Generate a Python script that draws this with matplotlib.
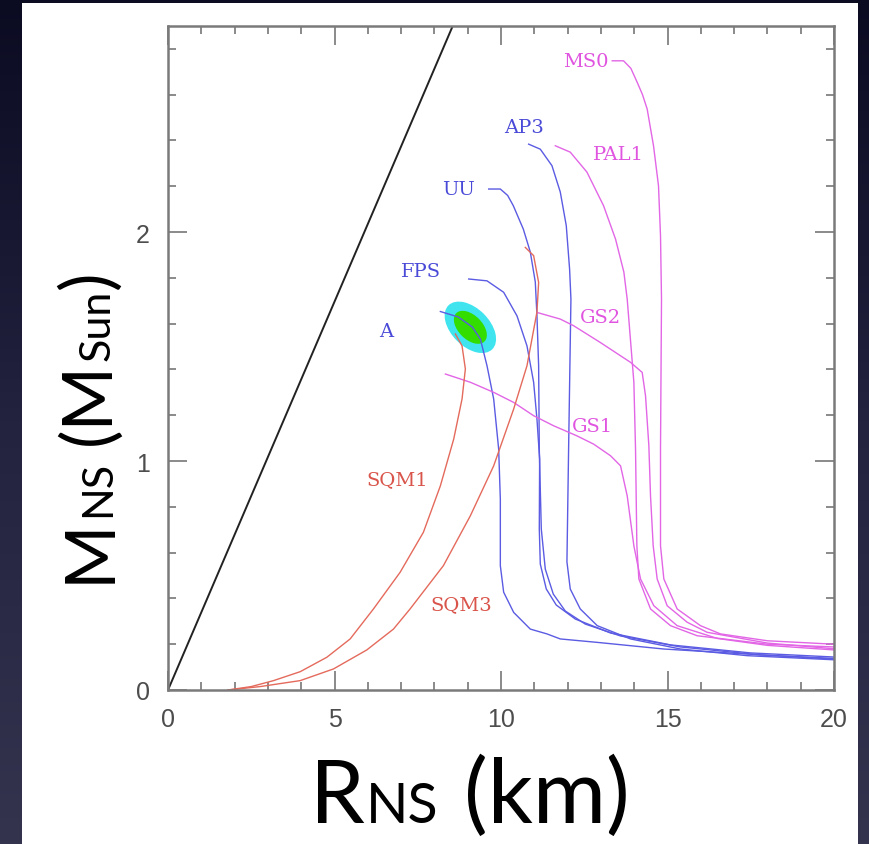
import matplotlib
matplotlib.use('Agg')
import matplotlib.pyplot as plt
import matplotlib.transforms as mtransforms
from matplotlib.patches import Ellipse, Rectangle
from matplotlib.colors import LinearSegmentedColormap
import numpy as np

# mass-radius curves, R in km, M in solar masses
line_R = [0.0, 8.55]
line_M = [0.0, 2.9]

A_R = [8.18, 8.72, 9.14, 9.38, 9.58, 9.78, 9.93, 9.98, 9.98, 10.08, 10.38, 10.88, 11.38, 11.78, 12.89, 14.89, 17.39, 20.0]
A_M = [1.653, 1.629, 1.585, 1.533, 1.416, 1.271, 1.052, 0.834, 0.543, 0.427, 0.339, 0.266, 0.245, 0.223, 0.208, 0.179, 0.157, 0.135]

FPS_R = [9.03, 9.58, 10.08, 10.48, 10.78, 10.98, 11.08, 11.16, 11.15, 11.18, 11.36, 11.66, 12.23, 13.29, 15.09, 17.49, 20.0]
FPS_M = [1.795, 1.787, 1.737, 1.634, 1.503, 1.344, 1.183, 1.009, 0.703, 0.550, 0.441, 0.371, 0.310, 0.249, 0.197, 0.162, 0.144]

UU_R = [9.63, 9.98, 10.2, 10.37, 10.67, 10.88, 11.03, 11.08, 11.13, 11.15, 11.21, 11.33, 11.57, 11.93, 12.53, 13.59, 15.39, 17.79, 20.0]
UU_M = [2.188, 2.188, 2.160, 2.115, 2.013, 1.913, 1.782, 1.634, 1.416, 1.052, 0.703, 0.528, 0.419, 0.345, 0.288, 0.236, 0.188, 0.153, 0.138]

AP3_R = [10.83, 11.18, 11.53, 11.78, 11.96, 12.06, 12.10, 12.03, 11.98, 12.08, 12.38, 12.89, 13.89, 15.39, 17.39, 20.0]
AP3_M = [2.384, 2.362, 2.290, 2.175, 2.028, 1.838, 1.707, 1.052, 0.560, 0.441, 0.354, 0.281, 0.223, 0.179, 0.150, 0.132]

MS0_R = [13.34, 13.68, 13.9, 14.09, 14.25, 14.39, 14.58, 14.73, 14.79, 14.82, 14.79, 14.79, 14.89, 15.29, 15.99, 16.59, 18.0, 20.0]
MS0_M = [2.748, 2.748, 2.715, 2.654, 2.600, 2.537, 2.377, 2.202, 1.984, 1.707, 1.052, 0.630, 0.485, 0.354, 0.281, 0.245, 0.215, 0.200]

PAL1_R = [11.63, 12.08, 12.58, 13.08, 13.44, 13.69, 13.79, 13.99, 14.04, 14.08, 14.14, 14.49, 15.09, 15.89, 18.0, 20.0]
PAL1_M = [2.377, 2.349, 2.262, 2.115, 1.969, 1.825, 1.707, 1.344, 1.052, 0.630, 0.485, 0.354, 0.281, 0.237, 0.200, 0.188]

GS2_R = [11.08, 11.78, 12.18, 12.98, 13.89, 14.24, 14.34, 14.44, 14.49, 14.57, 14.69, 14.99, 15.59, 16.19, 18.0, 20.0]
GS2_M = [1.649, 1.620, 1.591, 1.518, 1.431, 1.387, 1.285, 1.067, 0.848, 0.630, 0.485, 0.368, 0.296, 0.252, 0.205, 0.180]

GS1_R = [8.33, 9.08, 9.78, 10.38, 10.98, 11.58, 12.28, 12.78, 13.29, 13.59, 13.79, 13.99, 14.19, 14.59, 15.29, 16.5, 18.0, 20.0]
GS1_M = [1.380, 1.344, 1.300, 1.256, 1.198, 1.154, 1.110, 1.074, 1.023, 0.979, 0.848, 0.630, 0.485, 0.368, 0.281, 0.225, 0.195, 0.175]

SQM1_R = [1.8, 2.5, 3.17, 3.97, 4.77, 5.47, 6.17, 6.97, 7.67, 8.18, 8.58, 8.83, 8.93, 8.83, 8.63]
SQM1_M = [0.0, 0.015, 0.041, 0.080, 0.143, 0.223, 0.354, 0.514, 0.689, 0.892, 1.096, 1.271, 1.402, 1.503, 1.555]

SQM3_R = [1.8, 2.77, 3.97, 4.97, 5.97, 6.77, 7.27, 8.27, 9.08, 9.78, 10.38, 10.78, 11.08, 11.13, 10.98, 10.73]
SQM3_M = [0.0, 0.015, 0.041, 0.092, 0.175, 0.266, 0.354, 0.543, 0.761, 0.979, 1.227, 1.416, 1.651, 1.780, 1.897, 1.933]

# measured mass/radius (centre of the green blob)
obs_R = 9.08
obs_M = 1.584

# label text and where it sits (R, M)
curve_labels = ['MS0', 'AP3', 'PAL1', 'UU', 'FPS', 'A', 'GS2', 'GS1', 'SQM1', 'SQM3']
label_R = [12.55, 10.69, 13.54, 8.72, 7.61, 6.54, 13.0, 12.75, 6.89, 8.82]
label_M = [2.747, 2.457, 2.341, 2.188, 1.831, 1.569, 1.628, 1.154, 0.921, 0.376]

blue = '#5b5be3'
magenta = '#e266e6'
red = '#e46a5c'
label_col = {'MS0': '#e055e0', 'PAL1': '#e055e0', 'GS2': '#e055e0', 'GS1': '#e055e0',
             'AP3': '#4a4ad8', 'UU': '#4a4ad8', 'FPS': '#4a4ad8', 'A': '#4a4ad8',
             'SQM1': '#d9544a', 'SQM3': '#d9544a'}

W, H = 869, 845
fig = plt.figure(figsize=(W / 100, H / 100), dpi=100)

# dark slide background with a white panel
bg = fig.add_axes([0, 0, 1, 1], zorder=-10)
grad = np.linspace(0, 1, 256).reshape(-1, 1)
cmap = LinearSegmentedColormap.from_list('slide', ['#0b0b22', '#23223f', '#35344f'])
bg.imshow(grad, aspect='auto', cmap=cmap, extent=[0, 1, 0, 1], origin='upper')
bg.set_xlim(0, 1)
bg.set_ylim(0, 1)
bg.axis('off')
bg.add_patch(Rectangle((22 / W, 0), (858 - 22) / W, 1 - 4 / H, facecolor='white', edgecolor='none'))

ax = fig.add_axes([168 / W, 1 - 691 / H, (834 - 168) / W, (691 - 27) / H])
ax.set_facecolor('white')

trans = fig.dpi_scale_trans + mtransforms.ScaledTranslation(obs_R, obs_M, ax.transData)
ax.add_patch(Ellipse((0, 0), 0.62, 0.38, angle=-45, transform=trans, facecolor='#3fe4ef', edgecolor='none', zorder=1))
ax.add_patch(Ellipse((0, 0), 0.40, 0.24, angle=-45, transform=trans, facecolor='#33dd00', edgecolor='none', zorder=1.5))

ax.plot(line_R, line_M, color='#222222', lw=1.4, zorder=2)
for R, M in [(A_R, A_M), (FPS_R, FPS_M), (UU_R, UU_M), (AP3_R, AP3_M)]:
    ax.plot(R, M, color=blue, lw=1.0, zorder=2)
for R, M in [(MS0_R, MS0_M), (PAL1_R, PAL1_M), (GS2_R, GS2_M), (GS1_R, GS1_M)]:
    ax.plot(R, M, color=magenta, lw=1.0, zorder=2)
for R, M in [(SQM1_R, SQM1_M), (SQM3_R, SQM3_M)]:
    ax.plot(R, M, color=red, lw=1.0, zorder=2)

for name, r, m in zip(curve_labels, label_R, label_M):
    ax.text(r, m, name, color=label_col[name], fontsize=14, family='DejaVu Serif',
            ha='center', va='center', zorder=3)

ax.set_xlim(0, 20)
ax.set_ylim(0, 2.9)
ax.set_xticks([0, 5, 10, 15, 20])
ax.set_xticks(np.arange(0, 21, 1), minor=True)
ax.set_yticks([0, 1, 2])
ax.set_yticks(np.arange(0, 2.9, 0.2), minor=True)
ax.tick_params(which='both', direction='in', top=True, right=True, color='#777777', width=1.2,
               labelsize=18, labelcolor='#4d4d4d')
ax.tick_params(which='major', length=14)
ax.tick_params(which='minor', length=6)
ax.tick_params(axis='x', pad=12)
ax.tick_params(axis='y', pad=13)
for lab in ax.get_xticklabels() + ax.get_yticklabels():
    lab.set_family('Liberation Sans')
for sp in ax.spines.values():
    sp.set_color('#7a7a7a')
    sp.set_linewidth(1.8)


def chain_label(pieces, x0, y0, vertical=False):
    # pieces of text laid one after the other on a common baseline
    r = fig.canvas.get_renderer()
    pos = y0 if vertical else x0
    for txt, size, gap in pieces:
        pos += gap
        if vertical:
            t = fig.text(x0 / W, pos / H, txt, fontsize=size, family='Lato', rotation=90,
                         rotation_mode='anchor', ha='left', va='baseline', color='black')
            pos += t.get_window_extent(r).height
        else:
            t = fig.text(pos / W, y0 / H, txt, fontsize=size, family='Lato',
                         ha='left', va='baseline', color='black')
            pos += t.get_window_extent(r).width


fig.canvas.draw()
chain_label([('R', 63, 0), ('NS', 40, 1), ('(km)', 64, 26)], 310, 22)
chain_label([('M', 50, 0), ('NS', 31, 1), ('(M', 50, 16), ('Sun', 31, 1), (')', 50, 1)], 110, 262, vertical=True)

fig.savefig('out.png', dpi=100)
